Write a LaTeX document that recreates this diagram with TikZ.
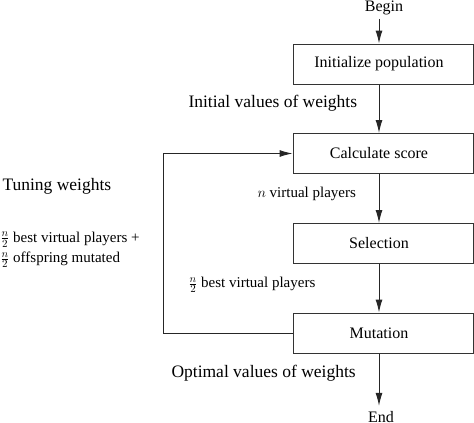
\documentclass[tikz,border=0pt]{standalone}
\usepackage{fontspec}
\setmainfont{Liberation Serif}
\usetikzlibrary{arrows.meta}

\begin{document}
\begin{tikzpicture}[x=1pt,y=-1pt,
  line width=1pt,
  box node/.style={rectangle,draw=black!80,minimum width=180pt,minimum height=40pt,font=\fontsize{16}{19}\selectfont},
  end node/.style={inner sep=3pt,font=\fontsize{16}{19}\selectfont},
  label node/.style={anchor=west,inner sep=0pt,font=\fontsize{17.5}{21}\selectfont},
  small node/.style={anchor=west,inner sep=0pt,font=\fontsize{15}{18}\selectfont},
  flow/.style={draw=black!85,-{Latex[length=13pt,width=7pt]}}]

  \useasboundingbox (0,0) rectangle (474,423);

  \node[end node,anchor=base] (begin) at (384,12) {Begin};
  \node[box node] (init) at (383,64) {\hspace*{-8pt}Initialize population};
  \node[box node] (calc) at (383,153.5) {\hspace*{-8pt}Calculate score};
  \node[box node] (select) at (383,243.5) {\hspace*{-8pt}Selection};
  \node[box node] (mut) at (383,333) {\hspace*{-8pt}Mutation};
  \node[end node,anchor=base,inner sep=5pt] (end) at (381,422.5) {End};

  \node[label node] (initial) at (188,103) {Initial values of weights};
  \node[label node] (tuning) at (2,186) {Tuning weights};
  \node[label node] (optimal) at (171,373) {Optimal values of weights};
  \node[small node] (nplayers) at (257,194) {$n$ virtual players};
  \node[small node] (best) at (188,285) {$\frac{n}{2}$ best virtual players};
  \node[small node] (bestall) at (0,239.5) {$\frac{n}{2}$ best virtual players +};
  \node[small node] (offspring) at (0,260) {$\frac{n}{2}$ offspring mutated};

  \coordinate (col) at (379,0);
  \coordinate (loop) at (163,0);

  \path
   (begin.south -| col) edge[flow] (init.north -| col)
   (init.south -| col) edge[flow] (calc.north -| col)
   (calc.south -| col) edge[flow] (select.north -| col)
   (select.south -| col) edge[flow] (mut.north -| col)
   (mut.south -| col) edge[flow] (end.north -| col);
  \draw[flow]
   (mut.west) -- (mut.west -| loop) |- (calc.west);
\end{tikzpicture}
\end{document}
